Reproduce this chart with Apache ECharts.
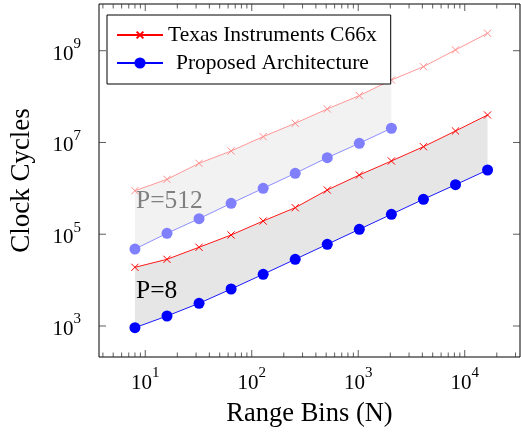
<!DOCTYPE html>
<html><head><meta charset="utf-8">
<script src="https://cdn.jsdelivr.net/npm/echarts@6/dist/echarts.min.js"></script>
<style>html,body{margin:0;padding:0;background:#fff}#c{width:521px;height:435px}</style>
</head><body><div id="c"></div>
<script>
// ---- data ----
const nAll = [8, 16, 32, 64, 128, 256, 512, 1024, 2048, 4096, 8192, 16384];
const n512 = [8, 16, 32, 64, 128, 256, 512, 1024, 2048];
const tiP8 = [19000, 28400, 51900, 96200, 194000, 379000, 920000, 1950000, 3950000, 8090000, 17800000, 39700000];
const propP8 = [918, 1650, 3120, 6400, 13400, 28400, 60400, 128000, 272000, 578000, 1200000, 2510000];
const tiP512 = [889000, 1570000, 3510000, 6520000, 13400000, 26200000, 53700000, 105000000, 230000000, 448000000, 1040000000, 2400000000];
const propP512 = [47600, 104700, 218000, 472000, 1000000, 2130000, 4660000, 9590000, 20400000];
const xMajorTicks = [10, 100, 1000, 10000];
const xMinorTicks = [4, 5, 6, 7, 8, 9, 20, 30, 40, 50, 60, 70, 80, 90, 200, 300, 400, 500, 600, 700, 800, 900,
  2000, 3000, 4000, 5000, 6000, 7000, 8000, 9000, 20000, 30000];
const yMajorTicks = [1e3, 1e5, 1e7, 1e9];
const seriesNames = ['Texas Instruments C66x', 'Proposed Architecture'];
const xName = 'Range Bins (N)';
const yName = 'Clock Cycles';

// ---- layout ----
const X_MIN = Math.pow(10, 0.5656), X_MAX = Math.pow(10, 4.519);
const Y_MIN = Math.pow(10, 2.324), Y_MAX = Math.pow(10, 10.018);
const FONT = '"Liberation Serif", "Times New Roman", serif';
const pairs = (xs, ys) => xs.map((x, i) => [x, ys[i]]);
const CROSS = 'path://M0,0L0.01,0M2,2L8,8M8,2L2,8M10,10L10.01,10';

function bandRenderer(upN, up, loN, lo, fill) {
  return function (params, api) {
    const pts = [];
    for (let i = 0; i < up.length; i++) pts.push(api.coord([upN[i], up[i]]));
    for (let i = lo.length - 1; i >= 0; i--) pts.push(api.coord([loN[i], lo[i]]));
    return { type: 'polygon', shape: { points: pts }, style: { fill: fill }, silent: true };
  };
}
const TICK_STYLE = { stroke: '#333', lineWidth: 0.8 };
function xTickRenderer(len) {
  return function (params, api) {
    const v = api.value(0);
    const b = api.coord([v, Y_MIN]), t = api.coord([v, Y_MAX]);
    return { type: 'group', children: [
      { type: 'line', shape: { x1: b[0], y1: b[1], x2: b[0], y2: b[1] - len }, style: TICK_STYLE },
      { type: 'line', shape: { x1: t[0], y1: t[1], x2: t[0], y2: t[1] + len }, style: TICK_STYLE }
    ]};
  };
}
function yTickRenderer(len) {
  return function (params, api) {
    const v = api.value(1);
    const l = api.coord([X_MIN, v]), r = api.coord([X_MAX, v]);
    return { type: 'group', children: [
      { type: 'line', shape: { x1: l[0], y1: l[1], x2: l[0] + len, y2: l[1] }, style: TICK_STYLE },
      { type: 'line', shape: { x1: r[0], y1: r[1], x2: r[0] - len, y2: r[1] }, style: TICK_STYLE }
    ]};
  };
}
const richLabel = {
  b: { fontFamily: FONT, fontSize: 21, lineHeight: 28, verticalAlign: 'bottom', color: '#000' },
  s: { fontFamily: FONT, fontSize: 15, lineHeight: 14, verticalAlign: 'top', color: '#000' }
};
function powLabel(onlyOdd) {
  return function (v) {
    const l = Math.log10(v), e = Math.round(l);
    if (Math.abs(l - e) > 1e-6) return '';
    if (onlyOdd && e % 2 === 0) return '';
    return '{b|10}{s|' + e + '}';
  };
}

const chart = echarts.init(document.getElementById('c'), null, { renderer: 'canvas' });
chart.setOption({
  animation: false,
  grid: { left: 95, right: 1, top: 4, bottom: 78, show: true, borderColor: '#000', borderWidth: 1, backgroundColor: 'transparent' },
  xAxis: {
    type: 'log', logBase: 10, min: X_MIN, max: X_MAX,
    axisLine: { show: false }, axisTick: { show: false }, splitLine: { show: false },
    axisLabel: { formatter: powLabel(false), rich: richLabel, margin: 9, showMinLabel: false, showMaxLabel: false },
    name: xName, nameLocation: 'middle', nameGap: 44,
    nameTextStyle: { fontFamily: FONT, fontSize: 26.5, color: '#000' }
  },
  yAxis: {
    type: 'log', logBase: 10, min: Y_MIN, max: Y_MAX,
    axisLine: { show: false }, axisTick: { show: false }, splitLine: { show: false },
    axisLabel: { formatter: powLabel(true), rich: richLabel, margin: 18, showMinLabel: false, showMaxLabel: false },
    name: yName, nameLocation: 'middle', nameGap: 64,
    nameTextStyle: { fontFamily: FONT, fontSize: 27, color: '#000' }
  },
  legend: {
    data: seriesNames, orient: 'vertical', left: 107, top: 15,
    itemWidth: 46, itemHeight: 14, itemGap: 6, padding: [9, 14, 10, 9],
    backgroundColor: '#fff', borderColor: '#000', borderWidth: 1, borderRadius: 0,
    textStyle: { fontFamily: FONT, fontSize: 21.5, color: '#000',
      rich: { p: { fontFamily: FONT, fontSize: 21.5, color: '#000', padding: [0, 0, 0, 8] } } },
    formatter: n => n === seriesNames[1] ? '{p|' + n + '}' : n,
    selectedMode: false
  },
  graphic: [
    { type: 'text', x: 136, y: 201, z: 50, style: { text: 'P=512', font: '25.5px ' + FONT, fill: '#808080', verticalAlign: 'middle' } },
    { type: 'text', x: 136, y: 291, z: 50, style: { text: 'P=8', font: '25.5px ' + FONT, fill: '#000', verticalAlign: 'middle' } }
  ],
  series: [
    { type: 'custom', renderItem: bandRenderer(n512, tiP512.slice(0, n512.length), n512, propP512, '#f2f2f2'), data: [[8, 1e4]], z: 1, silent: true },
    { type: 'custom', renderItem: bandRenderer(nAll, tiP8, nAll, propP8, '#e6e6e6'), data: [[8, 1e4]], z: 1, silent: true },
    { name: seriesNames[0], type: 'line', data: pairs(nAll, tiP8), z: 4,
      symbol: CROSS, symbolSize: 12, lineStyle: { color: '#ff0000', width: 0.9 },
      itemStyle: { color: '#ff0000', borderColor: '#ff0000', borderWidth: 1 } },
    { name: seriesNames[1], type: 'line', data: pairs(nAll, propP8), z: 4,
      symbol: 'circle', symbolSize: 11, lineStyle: { color: '#0000ff', width: 0.9 },
      itemStyle: { color: '#0000ff', borderWidth: 0 } },
    { name: seriesNames[0], type: 'line', data: pairs(nAll, tiP512), z: 3,
      symbol: CROSS, symbolSize: 12, lineStyle: { color: '#ff8c8c', width: 0.9 },
      itemStyle: { color: '#ff8c8c', borderColor: '#ff8c8c', borderWidth: 1 } },
    { name: seriesNames[1], type: 'line', data: pairs(n512, propP512), z: 3,
      symbol: 'circle', symbolSize: 11, lineStyle: { color: '#8080ff', width: 0.9 },
      itemStyle: { color: '#8080ff', borderWidth: 0 } },
    { type: 'custom', renderItem: xTickRenderer(7), data: xMajorTicks.map(v => [v, 1e4]), z: 5, silent: true },
    { type: 'custom', renderItem: xTickRenderer(4.5), data: xMinorTicks.map(v => [v, 1e4]), z: 5, silent: true },
    { type: 'custom', renderItem: yTickRenderer(7), data: yMajorTicks.map(v => [10, v]), z: 5, silent: true }
  ]
});
</script>
</body></html>
